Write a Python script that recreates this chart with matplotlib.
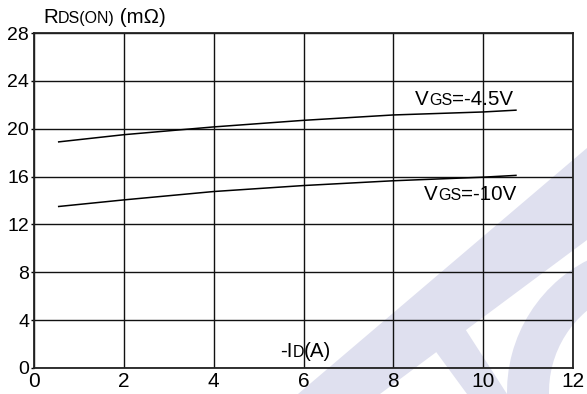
import matplotlib
matplotlib.use("Agg")
import matplotlib.pyplot as plt
from matplotlib.patches import Polygon, Wedge
from matplotlib.transforms import IdentityTransform

plt.rcParams['font.family'] = ['Liberation Sans', 'DejaVu Sans']

# drain current (A) and on-resistance (mOhm) for the two gate drives
id_a = [0.55, 2, 4, 6, 8, 10, 10.73]
rds_vgs45 = [18.9, 19.5, 20.15, 20.7, 21.15, 21.4, 21.55]
rds_vgs10 = [13.5, 14.05, 14.75, 15.25, 15.65, 15.95, 16.1]

x_ticks = [0, 2, 4, 6, 8, 10, 12]
y_ticks = [0, 4, 8, 12, 16, 20, 24, 28]

W, H = 587, 394
fig = plt.figure(figsize=(W / 100, H / 100), dpi=100)
ax = fig.add_axes([34 / W, 1 - 368 / H, (573 - 34) / W, (368 - 33) / H])
ax.set_facecolor('none')

# faint logo watermark behind the chart (pixel coords, y measured from top)
wm = '#dfe0ef'
def px(pts):
    return [(x, H - y) for x, y in pts]
fig.patches.append(Polygon(px([(298, 394), (380, 394), (587, 240), (587, 148)]),
                           closed=True, transform=IdentityTransform(), fc=wm, ec='none', zorder=-5))
fig.patches.append(Polygon(px([(420, 330), (453, 310), (507, 394), (467, 394)]),
                           closed=True, transform=IdentityTransform(), fc=wm, ec='none', zorder=-5))
fig.patches.append(Wedge((655, H - 392), 148, 60, 200, width=42,
                         transform=IdentityTransform(), fc=wm, ec='none', zorder=-5))

ax.plot(id_a, rds_vgs45, color='black', lw=1.1)
ax.plot(id_a, rds_vgs10, color='black', lw=1.1)

ax.set_xlim(0, 12)
ax.set_ylim(0, 28)
ax.set_xticks(x_ticks)
ax.set_yticks(y_ticks)
ax.grid(True, color='#111111', lw=1.0)
for s in ax.spines.values():
    s.set_color('#222222')
    s.set_linewidth(1.3)
ax.tick_params(axis='x', length=0, pad=3, labelsize=15)
ax.tick_params(axis='y', length=2.5, width=1, pad=1, labelsize=14, direction='out')


def sub_label(x, y, parts, fs, transform):
    # text with small same-baseline letters, e.g. V + GS
    first = fig.text(x, y, parts[0][0], fontsize=fs, transform=transform, va='baseline')
    prev = first
    for s, small in parts[1:]:
        size = fs * 0.78 if small else fs
        prev = fig.add_artist(matplotlib.text.Annotation(
            s, xy=(1, 0), xycoords=(prev, first), xytext=(0, 0.21 * (fs - size)),
            textcoords='offset points', fontsize=size, va='bottom', ha='left'))
    return first


sub_label(43 / W, 1 - 23 / H, [('R', 0), ('DS(ON)', 1), (' (mΩ)', 0)], 14.8, fig.transFigure)
sub_label(8.49, 22.0, [('V', 0), ('GS', 1), ('=-4.5V', 0)], 14.8, ax.transData)
sub_label(8.69, 14.05, [('V', 0), ('GS', 1), ('=-10V', 0)], 14.8, ax.transData)
sub_label(5.48, 0.92, [('-I', 0), ('D', 1), ('(A)', 0)], 14.8, ax.transData)

fig.savefig('out.png', dpi=100)
